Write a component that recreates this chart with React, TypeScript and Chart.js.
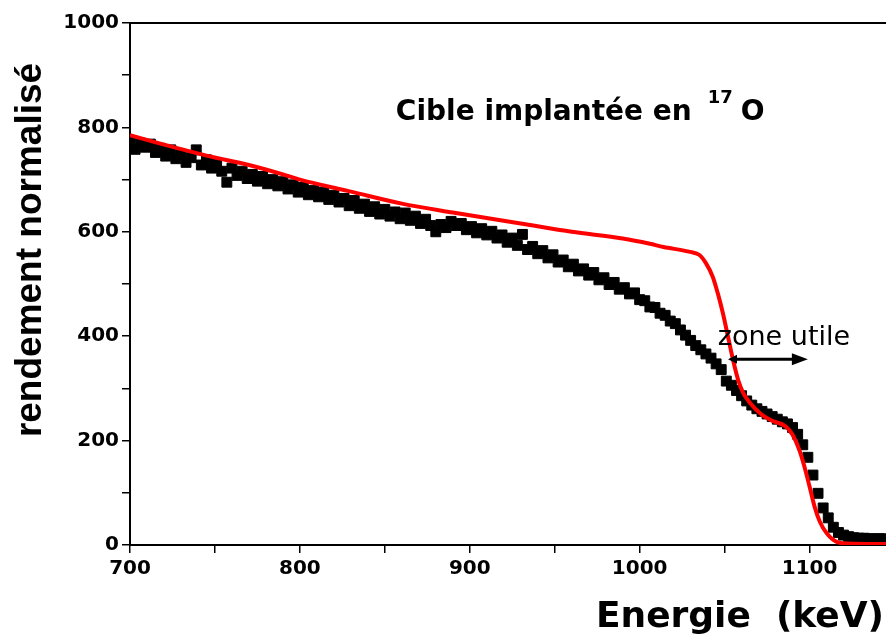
import React, { useEffect, useRef } from "react";
import { Chart, registerables } from "chart.js";

Chart.register(...registerables);

// Measured yield (black squares): energy in keV
const ENERGIES = [
  700, 703, 706, 709, 712, 715, 718, 721, 724, 727, 730, 733, 736, 739, 742, 745, 748, 751, 754, 757,
  760, 763, 766, 769, 772, 775, 778, 781, 784, 787, 790, 793, 796, 799, 802, 805, 808, 811, 814, 817,
  820, 823, 826, 829, 832, 835, 838, 841, 844, 847, 850, 853, 856, 859, 862, 865, 868, 871, 874, 877,
  880, 883, 886, 889, 892, 895, 898, 901, 904, 907, 910, 913, 916, 919, 922, 925, 928, 931, 934, 937,
  940, 943, 946, 949, 952, 955, 958, 961, 964, 967, 970, 973, 976, 979, 982, 985, 988, 991, 994, 997,
  1000, 1003, 1006, 1009, 1012, 1015, 1018, 1021, 1024, 1027, 1030, 1033, 1036, 1039, 1042, 1045, 1048, 1051, 1054, 1057,
  1060, 1063, 1066, 1069, 1072, 1075, 1078, 1081, 1084, 1087, 1090, 1093, 1096, 1099, 1102, 1105, 1108, 1111, 1114, 1117,
  1120, 1123, 1126, 1129, 1132, 1135, 1138, 1141, 1144,
];

// Measured normalised yield
const MEASURED = [
  772, 758, 770, 762, 768, 752, 760, 745, 757, 740, 748, 733, 742, 757, 728, 738, 722, 731, 716, 695,
  722, 708, 716, 702, 710, 697, 706, 692, 700, 688, 696, 682, 690, 676, 685, 671, 679, 667, 676, 662,
  670, 657, 664, 650, 660, 645, 653, 639, 648, 634, 643, 630, 638, 625, 636, 622, 630, 616, 624, 612,
  600, 614, 608, 620, 612, 616, 604, 610, 598, 606, 594, 601, 588, 594, 580, 588, 574, 595, 566, 572,
  558, 564, 550, 556, 542, 546, 533, 538, 525, 529, 517, 522, 508, 512, 499, 503, 490, 493, 481, 483,
  470, 468, 456, 455, 444, 440, 429, 424, 412, 402, 392, 382, 374, 366, 358, 347, 336, 314, 306, 296,
  286, 276, 268, 261, 256, 251, 246, 241, 236, 232, 225, 212, 192, 168, 134, 99, 71, 52, 34, 24,
  19, 16, 14, 13, 13, 12, 12, 12, 12,
];

// Simulated yield (red curve)
const FIT_ENERGIES = [
  700, 720, 745, 770, 790, 800, 830, 860, 890, 930, 960, 990, 1006, 1014, 1029, 1035, 1039, 1043, 1046, 1049,
  1052, 1055, 1058, 1061, 1065, 1071, 1078, 1086, 1090, 1094, 1097, 1100, 1103, 1106, 1110, 1116, 1122, 1145,
];
const FIT_VALUES = [
  785, 767, 746, 728, 710, 700, 677, 654, 637, 616, 600, 587, 577, 571, 562, 556, 540, 514, 482, 444,
  399, 354, 316, 291, 272, 252, 238, 227, 211, 182, 150, 112, 73, 45, 23, 6, 3, 2,
];

const X_MIN = 700;
const X_MAX = 1145;
const Y_MIN = 0;
const Y_MAX = 1000;

const TITLE_MAIN = "Cible implantée en";
const TITLE_SUP = "17";
const TITLE_ELEMENT = "O";
const TITLE_AT = [856.5, 814]; // data coords (keV, yield) of baseline start
const ZONE_LABEL = "zone utile";
const ZONE_AT = [1046, 383];
const ARROW_FROM = 1052;
const ARROW_TO = 1099;
const ARROW_Y = 356;

const Y_TITLE = "rendement normalisé";
const X_TITLE = "Energie  (keV)";

const FONT = '"DejaVu Sans", sans-serif';
const ARIAL = '"Liberation Sans", Arial, sans-serif';

const annotations = {
  id: "annotations",
  afterDraw(chart: any) {
    const { ctx, chartArea } = chart;
    const xs = chart.scales.x;
    const ys = chart.scales.y;
    ctx.save();
    // top frame line
    ctx.strokeStyle = "#000";
    ctx.lineWidth = 2;
    ctx.beginPath();
    ctx.moveTo(chartArea.left, chartArea.top);
    ctx.lineTo(chartArea.right, chartArea.top);
    ctx.stroke();

    ctx.fillStyle = "#000";
    ctx.textAlign = "left";
    ctx.textBaseline = "alphabetic";

    // Main title with superscript
    const tx = xs.getPixelForValue(TITLE_AT[0]);
    const ty = ys.getPixelForValue(TITLE_AT[1]);
    ctx.font = `bold 28px ${FONT}`;
    ctx.fillText(TITLE_MAIN, tx, ty);
    let cx = tx + ctx.measureText(TITLE_MAIN).width + 16;
    ctx.font = `bold 18px ${FONT}`;
    ctx.fillText(TITLE_SUP, cx, ty - 17);
    cx += ctx.measureText(TITLE_SUP).width + 8;
    ctx.font = `bold 28px ${FONT}`;
    ctx.fillText(TITLE_ELEMENT, cx, ty);

    // zone utile
    ctx.font = `27px ${FONT}`;
    ctx.fillText(ZONE_LABEL, xs.getPixelForValue(ZONE_AT[0]), ys.getPixelForValue(ZONE_AT[1]));

    // double arrow
    const ax0 = xs.getPixelForValue(ARROW_FROM);
    const ax1 = xs.getPixelForValue(ARROW_TO);
    const ay = ys.getPixelForValue(ARROW_Y);
    ctx.lineWidth = 3;
    ctx.beginPath();
    ctx.moveTo(ax0 + 4, ay);
    ctx.lineTo(ax1 - 10, ay);
    ctx.stroke();
    ctx.beginPath();
    ctx.moveTo(ax0, ay);
    ctx.lineTo(ax0 + 9, ay - 4.5);
    ctx.lineTo(ax0 + 9, ay + 4.5);
    ctx.closePath();
    ctx.fill();
    ctx.beginPath();
    ctx.moveTo(ax1, ay);
    ctx.lineTo(ax1 - 16, ay - 6);
    ctx.lineTo(ax1 - 16, ay + 6);
    ctx.closePath();
    ctx.fill();

    // axis titles
    ctx.font = `bold 37px ${ARIAL}`;
    ctx.save();
    ctx.translate(41, 250);
    ctx.rotate(-Math.PI / 2);
    ctx.textAlign = "center";
    ctx.fillText(Y_TITLE, 0, 0);
    ctx.restore();

    ctx.font = `bold 36px ${FONT}`;
    ctx.textAlign = "center";
    ctx.fillText(X_TITLE, 740, 627);
    ctx.restore();
  },
};

export default function App() {
  const ref = useRef<HTMLCanvasElement>(null);
  useEffect(() => {
    const canvas = ref.current;
    if (!canvas) return;
    const tickFont = { family: FONT, weight: "bold" as const, size: 20 };
    const chart = new Chart(canvas, {
      type: "scatter",
      data: {
        datasets: [
          {
            label: "simulation",
            data: FIT_ENERGIES.map((e, i) => ({ x: e, y: FIT_VALUES[i] })),
            showLine: true,
            borderColor: "#ff0000",
            backgroundColor: "#ff0000",
            borderWidth: 4,
            pointRadius: 0,
            cubicInterpolationMode: "monotone",
            order: 0,
          } as any,
          {
            label: "mesure",
            data: ENERGIES.map((e, i) => ({ x: e, y: MEASURED[i] })),
            showLine: false,
            pointStyle: "rect",
            pointRadius: 7,
            pointBackgroundColor: "#000",
            pointBorderColor: "#000",
            pointBorderWidth: 1,
            order: 1,
            clip: { left: 0, right: 0, top: false, bottom: false },
          } as any,
        ],
      },
      options: {
        responsive: false,
        animation: false,
        events: [],
        layout: { autoPadding: false, padding: { top: 23, right: 0, bottom: 0, left: 0 } },
        plugins: { legend: { display: false }, tooltip: { enabled: false } },
        scales: {
          x: {
            type: "linear",
            position: "bottom",
            min: X_MIN,
            max: X_MAX,
            afterFit: (s: any) => {
              s.height = 94;
            },
            grid: { display: true, drawOnChartArea: false, drawTicks: true, tickLength: 8, color: "#000", lineWidth: 1.5 },
            border: { display: true, color: "#000", width: 2 },
            ticks: {
              stepSize: 50,
              includeBounds: false,
              autoSkip: false,
              maxRotation: 0,
              color: "#000",
              font: tickFont,
              padding: 4,
              callback: (v: any) => (Number(v) % 100 === 0 ? String(v) : ""),
            },
          },
          y: {
            type: "linear",
            position: "left",
            min: Y_MIN,
            max: Y_MAX,
            afterFit: (s: any) => {
              s.width = 130;
            },
            grid: { display: true, drawOnChartArea: false, drawTicks: true, tickLength: 8, color: "#000", lineWidth: 1.5 },
            border: { display: true, color: "#000", width: 2 },
            ticks: {
              stepSize: 100,
              includeBounds: false,
              autoSkip: false,
              color: "#000",
              font: tickFont,
              padding: 3,
              callback: (v: any) => (Number(v) % 200 === 0 ? String(v) : ""),
            },
          },
        },
      },
      plugins: [annotations],
    });
    return () => chart.destroy();
  }, []);
  return (
    <canvas
      ref={ref}
      width={886}
      height={639}
      style={{ position: "absolute", left: 0, top: 0, display: "block" }}
    />
  );
}
